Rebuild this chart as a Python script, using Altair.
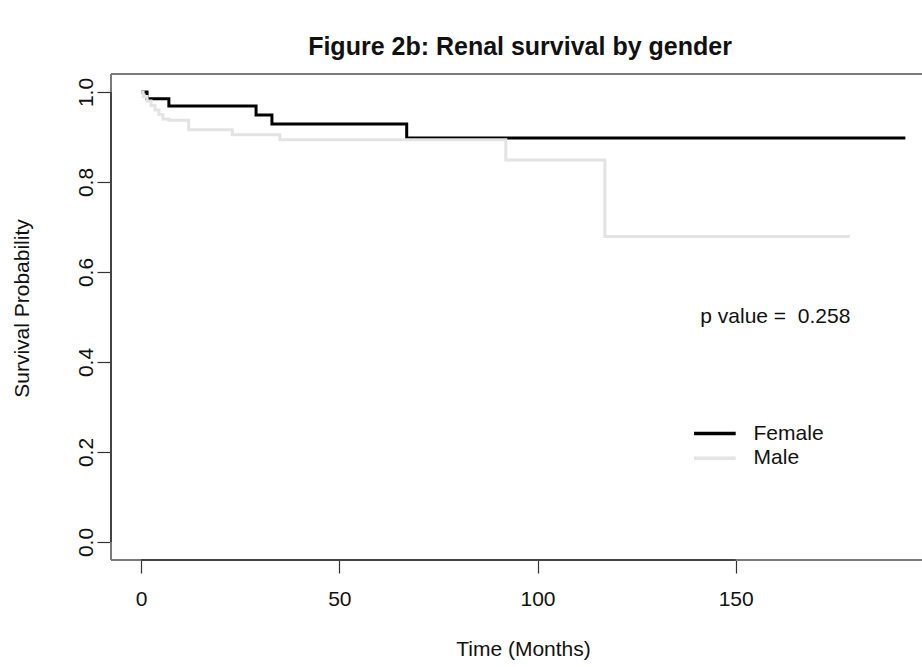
import altair as alt
import pandas as pd

# ---- data ----
female_time = [0, 1.5, 7, 29, 33, 67, 192.8]
female_surv = [1.0, 0.985, 0.969, 0.949, 0.929, 0.898, 0.898]

male_time = [0, 0.5, 1.5, 2.5, 3.5, 4.5, 5.5, 7, 12, 23, 35, 92, 117, 178.8]
male_surv = [1.0, 0.99, 0.98, 0.97, 0.96, 0.95, 0.94, 0.937, 0.916, 0.905, 0.894, 0.849, 0.679, 0.679]

groups = ["Female", "Male"]
group_colors = ["#000000", "#e3e3e3"]

x_ticks = [0, 50, 100, 150]
y_ticks = [0.0, 0.2, 0.4, 0.6, 0.8, 1.0]

p_label = "p value = \u00a00.258"
p_pos = (160, 0.5)

legend_x = [139.5, 150.0]
legend_text_x = 154.5
legend_y = [0.241, 0.186]

x_domain = [-7.6, 197.0]
y_domain = [-0.04, 1.04]

FONT = "Liberation Sans"

# ---- tables ----
curves = pd.concat([
    pd.DataFrame({"time": female_time, "surv": female_surv, "group": "Female"}),
    pd.DataFrame({"time": male_time, "surv": male_surv, "group": "Male"}),
], ignore_index=True)

legend_df = pd.DataFrame({
    "group": groups,
    "x1": [legend_x[0]] * 2,
    "x2": [legend_x[1]] * 2,
    "xt": [legend_text_x] * 2,
    "y": legend_y,
})

xs = alt.Scale(domain=x_domain, nice=False, zero=False)
ys = alt.Scale(domain=y_domain, nice=False, zero=False)
cs = alt.Scale(domain=groups, range=group_colors)

x_axis = alt.Axis(
    values=x_ticks, title="Time (Months)", grid=False, domain=False,
    tickSize=13, tickColor="#333333", tickWidth=1.2,
    labelFontSize=21, labelFont=FONT, labelColor="#111111", labelPadding=15,
    labelBaseline="top",
    titleFontSize=21, titleFont=FONT, titleFontWeight="normal", titleColor="#111111",
    titleX=412, titleY=95, titleBaseline="alphabetic", titleAnchor="middle", titleAlign="center",
)
y_axis = alt.Axis(
    values=y_ticks, format=".1f", title="Survival Probability", grid=False, domain=False,
    tickSize=14, tickColor="#333333", tickWidth=1.2,
    labelFontSize=21, labelFont=FONT, labelColor="#111111", labelPadding=5,
    labelAngle=270, labelAlign="center", labelBaseline="alphabetic",
    titleFontSize=21, titleFont=FONT, titleFontWeight="normal", titleColor="#111111",
    titleX=-83, titleY=234, titleBaseline="alphabetic", titleAngle=270, titleAlign="center",
)

lines = alt.Chart(curves).mark_line(
    interpolate="step-after", strokeWidth=3, strokeCap="butt", strokeJoin="miter"
).encode(
    x=alt.X("time:Q", scale=xs, axis=x_axis),
    y=alt.Y("surv:Q", scale=ys, axis=y_axis),
    color=alt.Color("group:N", scale=cs, legend=None),
)

# plot frame (R box) and axis lines
frame_top = alt.Chart(pd.DataFrame({"v": [y_domain[1]]})).mark_rule(
    color="#7a7a7a", strokeWidth=2).encode(y=alt.Y("v:Q", scale=ys))
frame_bottom = alt.Chart(pd.DataFrame({"v": [y_domain[0]]})).mark_rule(
    color="#7a7a7a", strokeWidth=2).encode(y=alt.Y("v:Q", scale=ys))
frame_left = alt.Chart(pd.DataFrame({"v": [x_domain[0]]})).mark_rule(
    color="#7a7a7a", strokeWidth=2).encode(x=alt.X("v:Q", scale=xs))
x_line = alt.Chart(pd.DataFrame({"a": [x_ticks[0]], "b": [x_ticks[-1]], "y": [y_domain[0]]})).mark_rule(
    color="#333333", strokeWidth=1.5).encode(
    x=alt.X("a:Q", scale=xs), x2="b:Q", y=alt.Y("y:Q", scale=ys))
y_line = alt.Chart(pd.DataFrame({"a": [y_ticks[0]], "b": [y_ticks[-1]], "x": [x_domain[0]]})).mark_rule(
    color="#333333", strokeWidth=1.5).encode(
    y=alt.Y("a:Q", scale=ys), y2="b:Q", x=alt.X("x:Q", scale=xs))

ptext = alt.Chart(pd.DataFrame({"x": [p_pos[0]], "y": [p_pos[1]], "t": [p_label]})).mark_text(
    font=FONT, fontSize=21, align="center", baseline="middle", color="#111111"
).encode(x=alt.X("x:Q", scale=xs), y=alt.Y("y:Q", scale=ys), text="t:N")

leg_lines = alt.Chart(legend_df).mark_rule(strokeWidth=3.5, strokeCap="butt").encode(
    x=alt.X("x1:Q", scale=xs), x2="x2:Q", y=alt.Y("y:Q", scale=ys),
    color=alt.Color("group:N", scale=cs, legend=None),
)
leg_text = alt.Chart(legend_df).mark_text(
    font=FONT, fontSize=21, align="left", baseline="middle", color="#111111"
).encode(x=alt.X("xt:Q", scale=xs), y=alt.Y("y:Q", scale=ys), text="group:N")

chart = alt.layer(
    frame_top, frame_bottom, frame_left, x_line, y_line, lines, ptext, leg_lines, leg_text
).properties(
    width=811, height=486,
    title=alt.Title(
        "Figure 2b: Renal survival by gender", font=FONT, fontSize=25, fontWeight="bold",
        color="#111111", anchor="middle", dx=3.5, dy=26, offset=19, baseline="alphabetic",
    ),
    autosize=alt.AutoSizeParams(type="none"),
    padding={"left": 111, "top": 74, "right": 0, "bottom": 107},
).configure_view(stroke=None).configure(background="white")

chart.save("out.html", embed_options={"renderer": "svg", "actions": False})
